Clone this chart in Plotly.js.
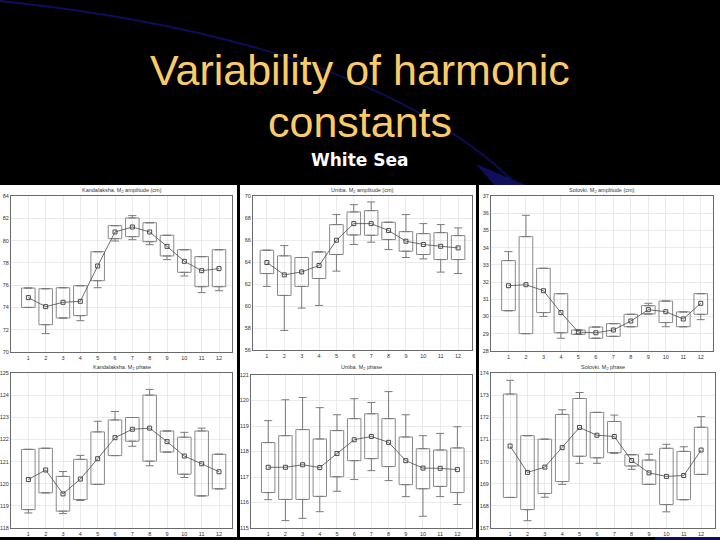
<!DOCTYPE html>
<html>
<head>
<meta charset="utf-8">
<script src="https://cdn.plot.ly/plotly-3.0.1.min.js"></script>
<style>html,body{margin:0;padding:0;background:#000;}#chart{width:720px;height:540px;}</style>
</head>
<body>
<div id="chart"></div>
<script>
// ---------- DATA ----------
const months = [1,2,3,4,5,6,7,8,9,10,11,12];
const monthLabels = ['1','2','3','4','5','6','7','8','9','10','11','12'];

const slideTitle1 = 'Variability of harmonic';
const slideTitle2 = 'constants';
const slideSubtitle = 'White Sea';

const panelTitles = [
  'Kandalaksha. M<sub>2</sub> amplitude (cm)',
  'Umba. M<sub>2</sub> amplitude (cm)',
  'Solovki. M<sub>2</sub> amplitude (cm)',
  'Kandalaksha. M<sub>2</sub> phase',
  'Umba. M<sub>2</sub> phase',
  'Solovki. M<sub>2</sub> phase'
];

// Kandalaksha amplitude
const kandAmpLo  = [74.0, 71.65, 73.05, 72.81, 75.77, 79.96, 80.08, 79.63, 78.29, 76.82, 75.33, 75.5];
const kandAmpQ1  = [74.0, 72.45, 73.05, 73.26, 76.4, 80.17, 80.35, 79.9, 78.62, 77.15, 75.86, 75.86];
const kandAmpQ3  = [75.74, 75.68, 75.77, 75.95, 79.0, 81.34, 82.03, 81.6, 80.47, 79.18, 78.56, 79.18];
const kandAmpHi  = [75.74, 75.68, 75.77, 75.95, 79.0, 81.34, 82.24, 81.6, 80.47, 79.18, 78.56, 79.18];
const kandAmpMid = [74.88, 74.07, 74.46, 74.55, 77.72, 80.77, 81.22, 80.77, 79.48, 78.14, 77.3, 77.48];

// Umba amplitude
const umbaAmpLo  = [61.78, 57.78, 59.81, 60.05, 63.17, 65.59, 65.8, 65.13, 64.41, 64.28, 63.08, 62.95];
const umbaAmpQ1  = [62.95, 60.96, 61.78, 62.5, 64.68, 66.46, 66.43, 66.04, 64.98, 64.68, 64.22, 64.22];
const umbaAmpQ3  = [65.07, 64.56, 64.41, 64.92, 67.4, 68.55, 68.67, 67.61, 66.76, 66.58, 66.67, 66.4];
const umbaAmpHi  = [65.07, 65.49, 64.41, 64.92, 68.31, 69.21, 69.46, 67.61, 68.31, 67.49, 67.4, 67.1];
const umbaAmpMid = [63.95, 62.83, 63.1, 63.68, 65.98, 67.49, 67.49, 66.86, 65.89, 65.59, 65.43, 65.28];

// Solovki amplitude
const solAmpLo  = [30.34, 29.01, 30.01, 28.74, 28.97, 28.74, 28.85, 29.41, 30.15, 29.41, 29.41, 29.82];
const solAmpQ1  = [30.34, 29.01, 30.23, 29.06, 28.97, 28.74, 28.85, 29.41, 30.15, 29.65, 29.41, 30.13];
const solAmpQ3  = [33.25, 34.64, 32.8, 31.33, 29.22, 29.39, 29.59, 30.13, 30.63, 30.9, 30.27, 31.33];
const solAmpHi  = [33.77, 35.88, 32.8, 31.33, 29.22, 29.39, 29.59, 30.13, 30.77, 30.9, 30.27, 31.33];
const solAmpMid = [31.79, 31.85, 31.5, 30.23, 29.1, 29.06, 29.22, 29.74, 30.4, 30.28, 29.86, 30.77];

// Kandalaksha phase
const kandPhLo  = [118.68, 119.59, 118.65, 119.24, 119.97, 121.27, 121.69, 120.81, 121.43, 120.28, 119.45, 119.77];
const kandPhQ1  = [118.83, 119.59, 118.76, 119.28, 119.97, 121.27, 121.92, 121.02, 121.43, 120.43, 119.45, 119.77];
const kandPhQ3  = [121.55, 121.6, 120.33, 121.1, 122.34, 122.88, 122.99, 124.0, 122.38, 122.1, 122.38, 121.33];
const kandPhHi  = [121.55, 121.6, 120.55, 121.28, 122.82, 123.26, 122.99, 124.26, 122.38, 122.32, 122.51, 121.33];
const kandPhMid = [120.19, 120.62, 119.54, 120.21, 121.13, 122.08, 122.46, 122.51, 121.9, 121.25, 120.9, 120.54];

// Umba phase
const umbaPhLo  = [116.11, 115.29, 115.38, 115.64, 116.44, 116.9, 117.25, 116.86, 116.23, 115.46, 116.23, 115.92];
const umbaPhQ1  = [116.39, 116.12, 116.12, 116.24, 117.01, 117.64, 117.72, 117.41, 116.7, 116.54, 116.63, 116.39];
const umbaPhQ3  = [118.35, 118.62, 118.86, 118.49, 118.82, 119.29, 119.48, 119.29, 118.57, 118.11, 118.06, 118.14];
const umbaPhHi  = [119.21, 120.03, 120.12, 119.72, 119.44, 120.07, 119.92, 120.35, 119.44, 118.62, 118.71, 118.97];
const umbaPhMid = [117.38, 117.38, 117.48, 117.37, 117.92, 118.46, 118.59, 118.36, 117.64, 117.35, 117.34, 117.29];

// Solovki phase
const solPhLo  = [168.38, 167.33, 168.39, 168.97, 169.92, 169.92, 170.37, 169.65, 168.97, 167.73, 168.28, 169.42];
const solPhQ1  = [168.38, 167.83, 168.56, 169.1, 170.24, 170.17, 170.4, 169.8, 168.97, 168.06, 168.28, 169.42];
const solPhQ3  = [173.05, 171.17, 171.01, 172.13, 172.85, 172.22, 171.81, 170.31, 170.07, 170.6, 170.46, 171.55];
const solPhHi  = [173.67, 171.17, 171.01, 172.34, 173.12, 172.22, 172.1, 170.31, 170.33, 170.78, 170.67, 172.03];
const solPhMid = [170.7, 169.51, 169.75, 170.63, 171.54, 171.19, 171.13, 170.05, 169.49, 169.33, 169.37, 170.52];

// ---------- LAYOUT HELPERS ----------
const W = 720, H = 540;
const px = v => v / W;
const py = v => 1 - v / H;

const panels = [
  {lo: kandAmpLo, q1: kandAmpQ1, q3: kandAmpQ3, hi: kandAmpHi, mid: kandAmpMid,
   box: [11, 232, 196, 352], xr: [0, 12.75], yr: [70, 84], dt: 2},
  {lo: umbaAmpLo, q1: umbaAmpQ1, q3: umbaAmpQ3, hi: umbaAmpHi, mid: umbaAmpMid,
   box: [253, 472, 196, 350], xr: [0.2, 12.8], yr: [56, 70], dt: 2},
  {lo: solAmpLo, q1: solAmpQ1, q3: solAmpQ3, hi: solAmpHi, mid: solAmpMid,
   box: [491, 713, 196, 351], xr: [0, 12.7], yr: [28, 37], dt: 1},
  {lo: kandPhLo, q1: kandPhQ1, q3: kandPhQ3, hi: kandPhHi, mid: kandPhMid,
   box: [11, 232, 373, 528], xr: [0, 12.75], yr: [118, 125], dt: 1},
  {lo: umbaPhLo, q1: umbaPhQ1, q3: umbaPhQ3, hi: umbaPhHi, mid: umbaPhMid,
   box: [251, 472, 375, 528], xr: [0, 12.85], yr: [115, 121], dt: 1},
  {lo: solPhLo, q1: solPhQ1, q3: solPhQ3, hi: solPhHi, mid: solPhMid,
   box: [491, 715, 373, 528], xr: [-0.1, 12.8], yr: [167, 174], dt: 1}
];

const traces = [];
const layout = {
  width: W, height: H,
  margin: {l: 0, r: 0, t: 0, b: 0},
  paper_bgcolor: '#000000',
  plot_bgcolor: '#ffffff',
  showlegend: false,
  font: {family: 'Liberation Sans, Arial, sans-serif'},
  annotations: [],
  shapes: []
};

const boxLine = '#8a8a8a';
const whiskerCol = '#7a7a7a';
const meanCol = '#4a4a4a';

panels.forEach((p, i) => {
  const n = i + 1;
  const xa = 'x' + (n === 1 ? '' : n);
  const ya = 'y' + (n === 1 ? '' : n);
  const xKey = 'xaxis' + (n === 1 ? '' : n);
  const yKey = 'yaxis' + (n === 1 ? '' : n);
  const [x0, x1, y0, y1] = p.box;

  layout[xKey] = {
    domain: [px(x0), px(x1)], range: p.xr, anchor: ya,
    tickmode: 'array', tickvals: months, ticktext: monthLabels,
    showgrid: true, gridcolor: '#e2e2e2', gridwidth: 0.7,
    showline: true, mirror: true, linecolor: '#6a6a6a', linewidth: 1,
    zeroline: false, ticks: '', tickfont: {size: 5.5, color: '#333'},
    fixedrange: true
  };
  layout[yKey] = {
    domain: [py(y1), py(y0)], range: p.yr, anchor: xa,
    dtick: p.dt, tick0: p.yr[0],
    showgrid: true, gridcolor: '#e2e2e2', gridwidth: 0.7,
    showline: true, mirror: true, linecolor: '#6a6a6a', linewidth: 1,
    zeroline: false, ticks: '', tickfont: {size: 5.5, color: '#333'},
    fixedrange: true
  };

  // boxes
  traces.push({
    type: 'bar', x: months, base: p.q1,
    y: p.q3.map((v, k) => v - p.q1[k]),
    width: 0.78, xaxis: xa, yaxis: ya,
    marker: {color: 'rgba(255,255,255,0)', line: {color: boxLine, width: 1}},
    hoverinfo: 'skip'
  });
  // upper whiskers
  traces.push({
    type: 'scatter', mode: 'markers', x: months, y: p.q3, xaxis: xa, yaxis: ya,
    marker: {size: 1, opacity: 0},
    error_y: {type: 'data', symmetric: false,
      array: p.hi.map((v, k) => v - p.q3[k]), arrayminus: p.hi.map(() => 0),
      color: whiskerCol, thickness: 1, width: 4},
    hoverinfo: 'skip'
  });
  // lower whiskers
  traces.push({
    type: 'scatter', mode: 'markers', x: months, y: p.q1, xaxis: xa, yaxis: ya,
    marker: {size: 1, opacity: 0},
    error_y: {type: 'data', symmetric: false,
      array: p.lo.map(() => 0), arrayminus: p.lo.map((v, k) => p.q1[k] - v),
      color: whiskerCol, thickness: 1, width: 4},
    hoverinfo: 'skip'
  });
  // central values line
  traces.push({
    type: 'scatter', mode: 'lines+markers', x: months, y: p.mid, xaxis: xa, yaxis: ya,
    line: {color: meanCol, width: 0.8},
    marker: {symbol: 'square-open', size: 4, color: meanCol, line: {width: 1}},
    hoverinfo: 'skip'
  });

  // panel title
  layout.annotations.push({
    xref: 'paper', yref: 'paper', x: px((x0 + x1) / 2), y: py(n <= 3 ? 190 : 367),
    text: panelTitles[i], showarrow: false, xanchor: 'center', yanchor: 'middle',
    font: {size: 5.5, color: '#333'}
  });
});

// decorative slide elements
layout.shapes.push({
  type: 'path', xref: 'paper', yref: 'paper', layer: 'below',
  path: 'M 0,' + py(1) + ' Q ' + px(372) + ',' + py(40) + ' ' + px(518) + ',' + py(186),
  line: {color: '#0e0e5c', width: 1.8}
});
layout.shapes.push({
  type: 'path', xref: 'paper', yref: 'paper', layer: 'below',
  path: 'M ' + px(476) + ',' + py(164) + ' L ' + px(528) + ',' + py(186) + ' L ' + px(495) + ',' + py(186) + ' Z',
  fillcolor: '#0f0f5e', line: {width: 0}
});
layout.shapes.push({
  type: 'rect', xref: 'paper', yref: 'paper', layer: 'below',
  x0: px(655), x1: 1, y0: 0, y1: py(537),
  fillcolor: '#10105a', line: {width: 0}
});
// white panels
[[0, 237], [240, 476], [479, 720]].forEach(([a, b]) => {
  layout.shapes.push({
    type: 'rect', xref: 'paper', yref: 'paper', layer: 'below',
    x0: px(a), x1: px(b), y0: py(537), y1: py(185),
    fillcolor: '#ffffff', line: {width: 0}
  });
});

// slide titles
layout.annotations.push({
  xref: 'paper', yref: 'paper', x: 0.5, y: py(70), xanchor: 'center', yanchor: 'middle',
  text: slideTitle1, showarrow: false,
  font: {family: 'Liberation Sans, Arial, sans-serif', size: 43, color: '#FBCB68'}
});
layout.annotations.push({
  xref: 'paper', yref: 'paper', x: 0.5, y: py(122), xanchor: 'center', yanchor: 'middle',
  text: slideTitle2, showarrow: false,
  font: {family: 'Liberation Sans, Arial, sans-serif', size: 43, color: '#FBCB68'}
});
layout.annotations.push({
  xref: 'paper', yref: 'paper', x: 0.5, y: py(160), xanchor: 'center', yanchor: 'middle',
  text: '<b>' + slideSubtitle + '</b>', showarrow: false,
  font: {family: 'DejaVu Sans, sans-serif', size: 17, color: '#ffffff'}
});

Plotly.newPlot('chart', traces, layout, {staticPlot: true, displayModeBar: false});
</script>
</body>
</html>
